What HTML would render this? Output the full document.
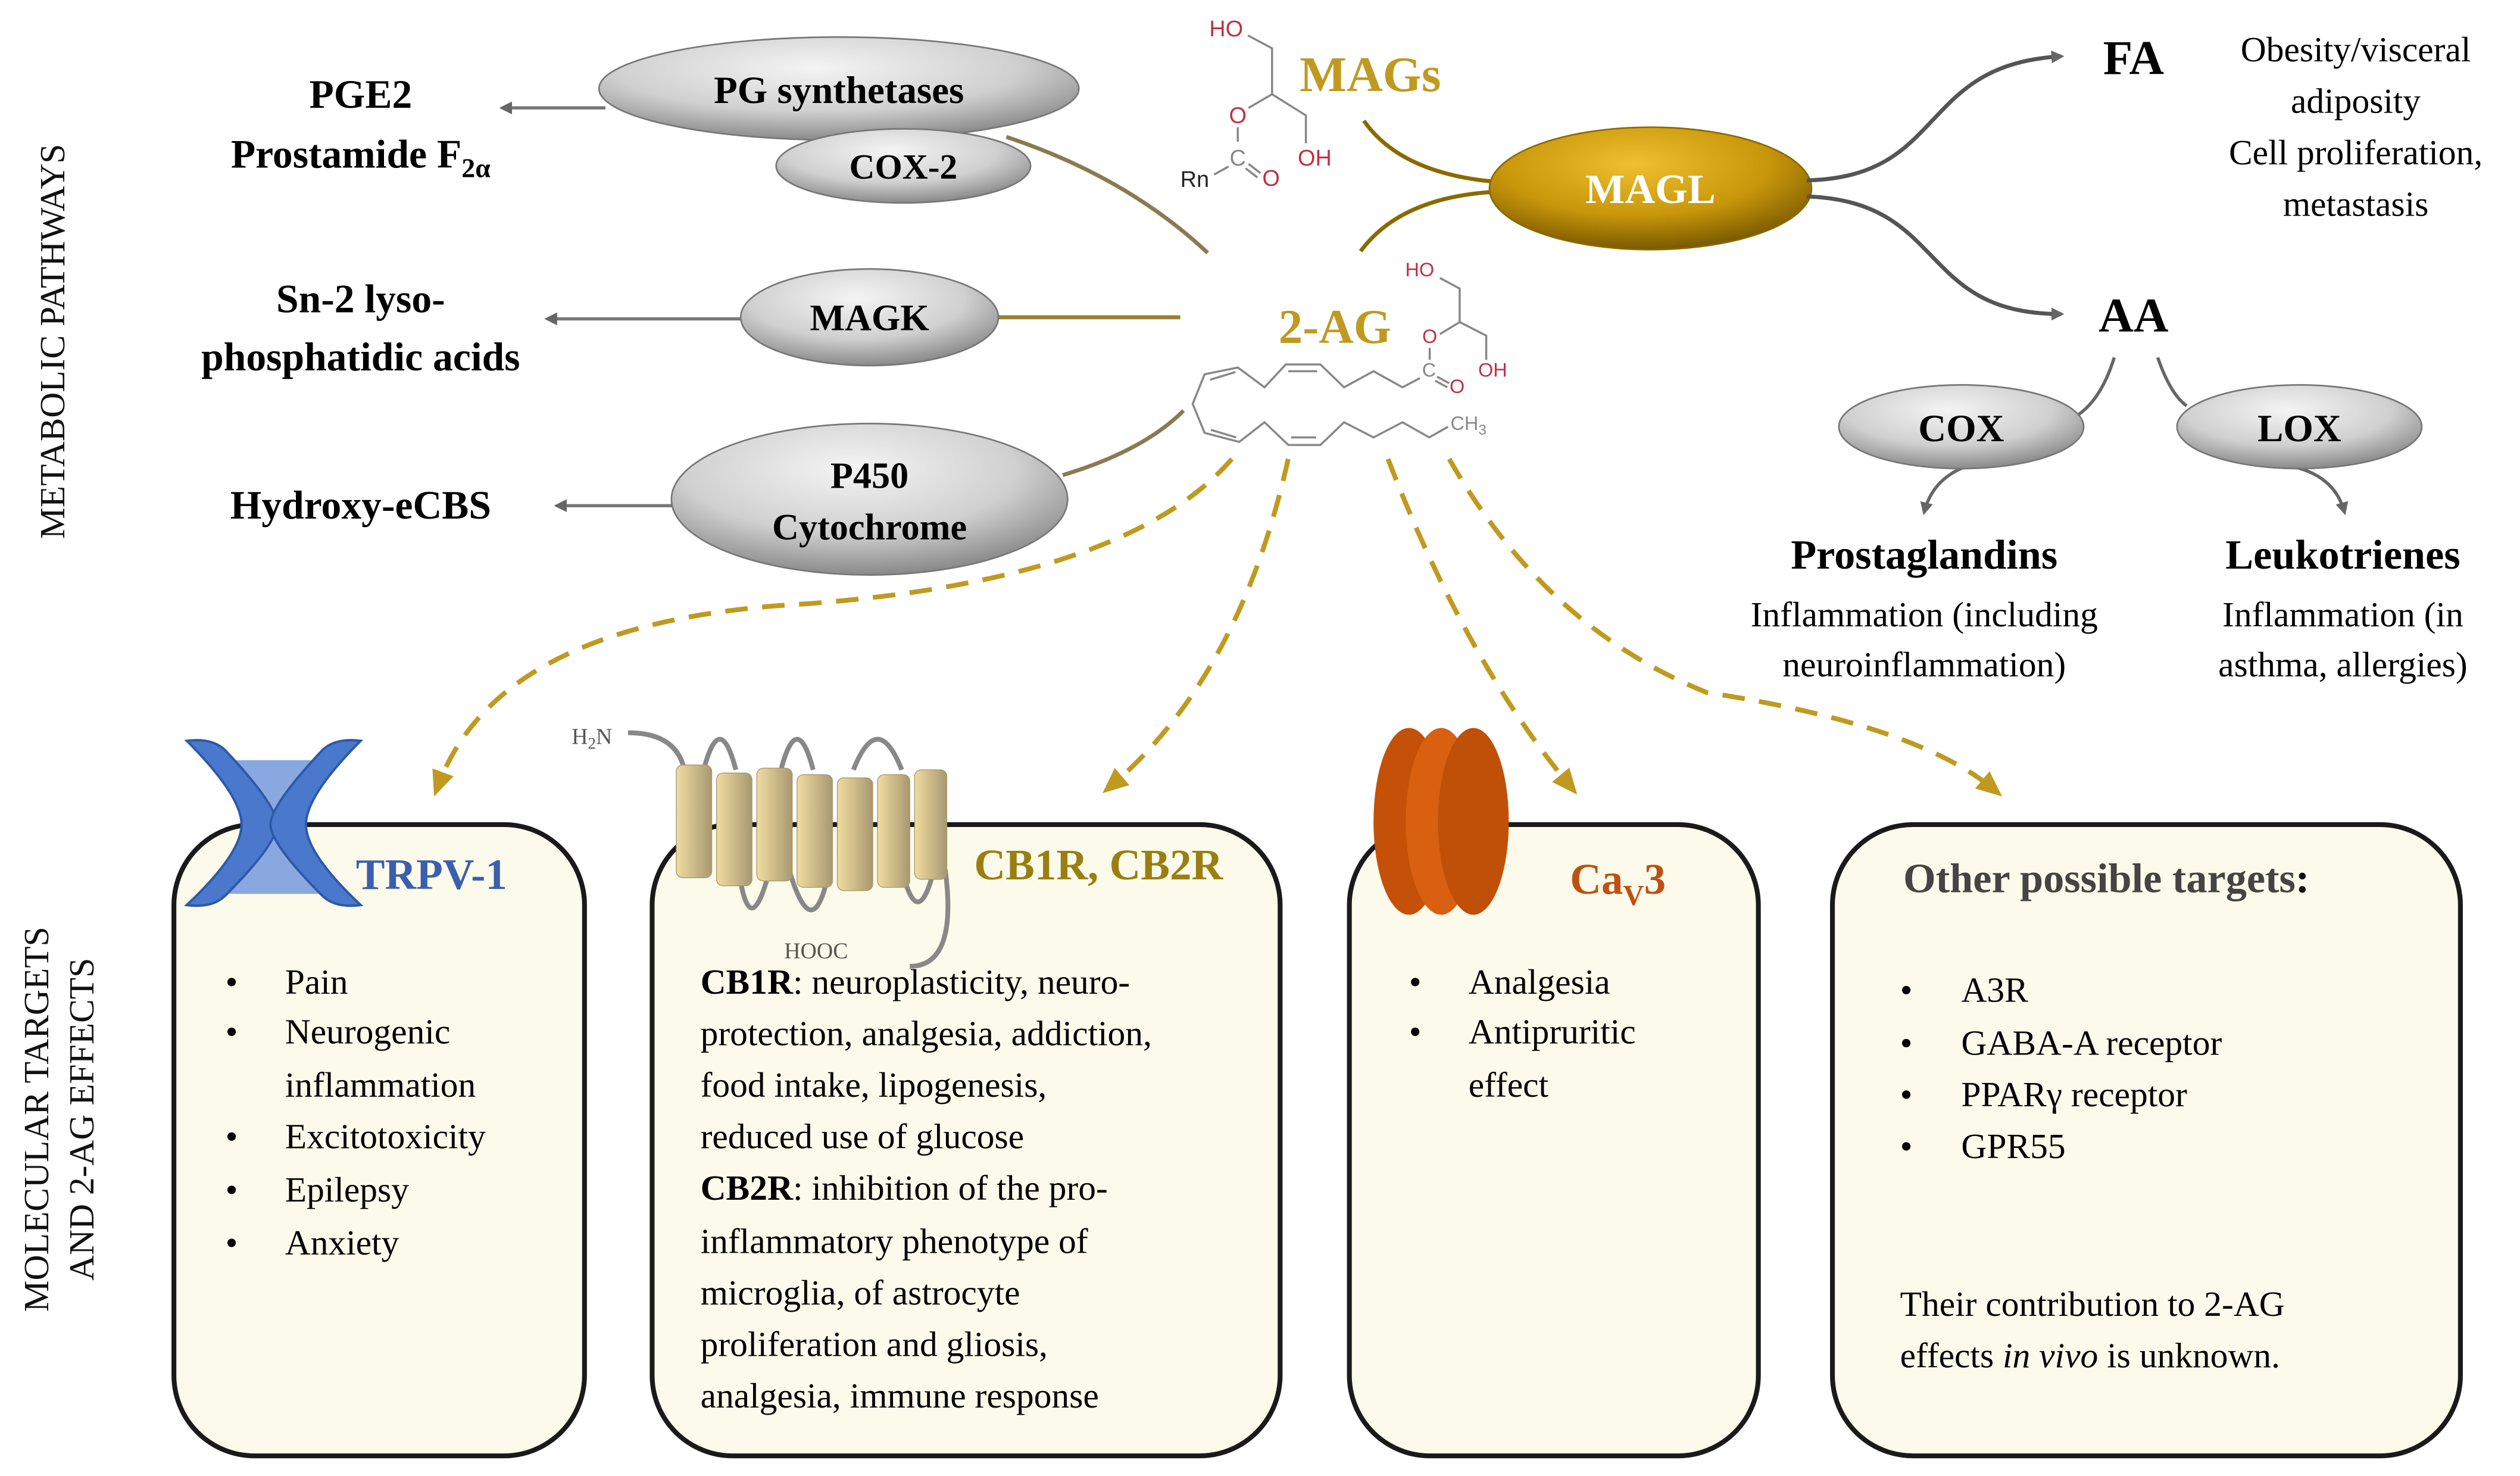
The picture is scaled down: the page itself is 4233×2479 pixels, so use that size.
<!DOCTYPE html>
<html><head><meta charset="utf-8"><style>
html,body{margin:0;padding:0;background:#fff;}
svg{display:block;font-family:"Liberation Serif","Times New Roman","Tinos","Noto Serif","DejaVu Serif","Noto Serif CJK SC",serif;}
svg text{font-family:"Liberation Serif","Times New Roman","Tinos","Noto Serif","DejaVu Serif","Noto Serif CJK SC",serif;}
svg text.s{font-family:"Liberation Sans","DejaVu Sans",sans-serif;}
.b{font-weight:bold;}
</style></head><body>
<svg width="4233" height="2479" viewBox="0 0 1565 916.5" preserveAspectRatio="none" xmlns="http://www.w3.org/2000/svg">
<defs>
<radialGradient id="gr" cx="45%" cy="30%" r="70%"><stop offset="0" stop-color="#f4f4f4"/><stop offset="0.6" stop-color="#d0d0d0"/><stop offset="1" stop-color="#8a8a8a"/></radialGradient>
<radialGradient id="gd" cx="45%" cy="30%" r="70%"><stop offset="0" stop-color="#f0c030"/><stop offset="0.6" stop-color="#c8960a"/><stop offset="1" stop-color="#7a5a00"/></radialGradient>
<linearGradient id="cyl" x1="0" x2="1"><stop offset="0" stop-color="#f0dca0"/><stop offset="1" stop-color="#a89870"/></linearGradient>
<marker id="ag" markerWidth="8" markerHeight="8" refX="6" refY="4" orient="auto" markerUnits="userSpaceOnUse"><path d="M0,0 L8,4 L0,8 z" fill="#666"/></marker>
<marker id="ad" markerWidth="18" markerHeight="18" refX="9" refY="9" orient="auto" markerUnits="userSpaceOnUse"><path d="M0,2 L16,9 L0,16 z" fill="#c09a20"/></marker>
</defs>

<!-- side labels -->
<text transform="translate(40,212) rotate(-90)" text-anchor="middle" font-size="22" fill="#111">METABOLIC  PATHWAYS</text>
<text transform="translate(30,695) rotate(-90)" text-anchor="middle" font-size="22" fill="#111">MOLECULAR TARGETS</text>
<text transform="translate(58,695) rotate(-90)" text-anchor="middle" font-size="22" fill="#111">AND 2-AG EFFECTS</text>

<!-- left pathways -->
<g stroke="#777" stroke-width="2" fill="none">
<line x1="376" y1="67" x2="312" y2="67" marker-end="url(#ag)"/>
<line x1="462" y1="198" x2="340" y2="198" marker-end="url(#ag)"/>
<line x1="420" y1="314" x2="346" y2="314" marker-end="url(#ag)"/>
</g>
<g stroke="#8a7a50" stroke-width="2.5" fill="none">
<path d="M625,85 Q700,110 750,157"/>
<line x1="620" y1="197" x2="733" y2="197" stroke="#9a8030"/>
<path d="M660,295 Q710,280 735,255"/>
</g>
<ellipse cx="521" cy="55" rx="149" ry="32" fill="url(#gr)" stroke="#777"/>
<text x="521" y="64" text-anchor="middle" font-size="24" class="b">PG synthetases</text>
<ellipse cx="561" cy="103" rx="79" ry="23" fill="url(#gr)" stroke="#777"/>
<text x="561" y="111" text-anchor="middle" font-size="22" class="b">COX-2</text>
<ellipse cx="540" cy="197" rx="80" ry="30" fill="url(#gr)" stroke="#777"/>
<text x="540" y="205" text-anchor="middle" font-size="23" class="b">MAGK</text>
<ellipse cx="540" cy="310" rx="123" ry="47" fill="url(#gr)" stroke="#777"/>
<text x="540" y="303" text-anchor="middle" font-size="23" class="b">P450</text>
<text x="540" y="335" text-anchor="middle" font-size="23" class="b">Cytochrome</text>

<text x="224" y="67" text-anchor="middle" font-size="25" class="b">PGE2</text>
<text x="224" y="104" text-anchor="middle" font-size="25" class="b">Prostamide F<tspan font-size="17" dy="6">2α</tspan></text>
<text x="224" y="194" text-anchor="middle" font-size="25" class="b">Sn-2 lyso-</text>
<text x="224" y="230" text-anchor="middle" font-size="25" class="b">phosphatidic acids</text>
<text x="224" y="322" text-anchor="middle" font-size="25" class="b">Hydroxy-eCBS</text>

<!-- MAGs molecule -->
<g stroke="#888" stroke-width="1.3" fill="none">
<path d="M775,22 L790,30 L790,58.5 L811,71.7 L811,89"/>
<path d="M790,58.5 L775.4,67"/>
<path d="M768.7,79 L768.7,88"/>
<path d="M754,108.4 L763,103.4"/>
<path d="M775.4,101.8 L782.8,107.5"/><path d="M773.5,104.5 L780.9,110.2"/>
</g>
<text class="s" x="751" y="22.6" font-size="14" fill="#c03040">HO</text>
<text class="s" x="768.7" y="76.4" font-size="14" fill="#c03040" text-anchor="middle">O</text>
<text class="s" x="768.7" y="102.8" font-size="14" fill="#888" text-anchor="middle">C</text>
<text class="s" x="806" y="102.8" font-size="14" fill="#c03040">OH</text>
<text class="s" x="733" y="116" font-size="14" fill="#222">Rn</text>
<text class="s" x="789.4" y="115.4" font-size="14" fill="#c03040" text-anchor="middle">O</text>
<text x="851" y="56.6" text-anchor="middle" font-size="31" class="b" fill="#c09a20">MAGs</text>

<!-- 2-AG molecule -->
<g stroke="#888" stroke-width="1.3" fill="none">
<path d="M894.2,172.6 L906.5,179.2 L906.5,200 L923,208.4 L923,223.5"/>
<path d="M906.5,200 L894.2,207.5"/>
<path d="M887.9,216 L887.9,223.5"/>
<path d="M892.5,233.9 L900,238"/><path d="M891.3,236.4 L898.8,240.5"/>
<path d="M881.8,234.8 L871,240.5 L853,230.5 L834.7,240.5 L820,226.3 L798.5,226.3 L785.3,240.5 L768.8,228.2 L748.1,232.4 L740.7,250.8 L748.1,268.8 L769.6,274.4 L785.3,262.2 L800.1,276.3 L820,276.3 L834.7,262.2 L853,271.6 L871,262.2 L887.6,271.6 L899.2,265"/>
<path d="M751.5,235.8 L767.2,231"/><path d="M800,230.5 L818,230.5"/><path d="M752,266.9 L767.7,271.6"/><path d="M801.8,271.6 L817.4,271.6"/>
</g>
<text class="s" x="872.7" y="171.6" font-size="12" fill="#c03040">HO</text>
<text class="s" x="887.9" y="213" font-size="12" fill="#c03040" text-anchor="middle">O</text>
<text class="s" x="887.5" y="233.9" font-size="12" fill="#888" text-anchor="middle">C</text>
<text class="s" x="904.9" y="244" font-size="12" fill="#c03040" text-anchor="middle">O</text>
<text class="s" x="918" y="233.9" font-size="12" fill="#c03040">OH</text>
<text class="s" x="900.8" y="266.9" font-size="12" fill="#888">CH<tspan font-size="9" dy="3">3</tspan></text>
<text x="829" y="213" text-anchor="middle" font-size="30" class="b" fill="#c09a20">2-AG</text>

<!-- MAGL -->
<g stroke="#8a6a00" stroke-width="2.5" fill="none">
<path d="M847,75 Q870,108 930,113"/>
<path d="M845,156 Q870,122 930,119"/>
</g>
<ellipse cx="1025" cy="117" rx="100" ry="38" fill="url(#gd)" stroke="#8a6a00"/>
<text x="1025" y="126" text-anchor="middle" font-size="26" class="b" fill="#fff">MAGL</text>
<g stroke="#555" stroke-width="2.5" fill="none">
<path d="M1122,112 C1210,110 1190,40 1280,35" marker-end="url(#ag)"/>
<path d="M1122,122 C1210,125 1190,195 1280,195" marker-end="url(#ag)"/>
</g>
<text x="1325" y="46" text-anchor="middle" font-size="30" class="b">FA</text>
<text x="1325" y="206" text-anchor="middle" font-size="30" class="b">AA</text>
<g font-size="22" text-anchor="middle">
<text x="1463" y="38">Obesity/visceral</text>
<text x="1463" y="70">adiposity</text>
<text x="1463" y="102">Cell proliferation,</text>
<text x="1463" y="134">metastasis</text>
</g>
<g stroke="#666" stroke-width="2" fill="none">
<path d="M1313,222 Q1305,248 1290,258"/>
<path d="M1340,222 Q1348,245 1358,252"/>
<path d="M1220,290 Q1200,298 1195,318" marker-end="url(#ag)"/>
<path d="M1425,290 Q1450,296 1456,318" marker-end="url(#ag)"/>
</g>
<ellipse cx="1218" cy="265" rx="76" ry="26" fill="url(#gr)" stroke="#777"/>
<text x="1218" y="274" text-anchor="middle" font-size="24" class="b">COX</text>
<ellipse cx="1428" cy="265" rx="76" ry="26" fill="url(#gr)" stroke="#777"/>
<text x="1428" y="274" text-anchor="middle" font-size="24" class="b">LOX</text>
<text x="1195" y="353" text-anchor="middle" font-size="26" class="b">Prostaglandins</text>
<text x="1195" y="389" text-anchor="middle" font-size="22">Inflammation (including</text>
<text x="1195" y="420" text-anchor="middle" font-size="22">neuroinflammation)</text>
<text x="1455" y="353" text-anchor="middle" font-size="26" class="b">Leukotrienes</text>
<text x="1455" y="389" text-anchor="middle" font-size="22">Inflammation (in</text>
<text x="1455" y="420" text-anchor="middle" font-size="22">asthma, allergies)</text>

<!-- dashed arrows -->
<g stroke="#c09a20" stroke-width="3" fill="none" stroke-dasharray="14,9">
<path d="M765,285 Q700,360 500,375 Q310,385 272,488" marker-end="url(#ad)"/>
<path d="M800,285 Q770,420 690,488" marker-end="url(#ad)"/>
<path d="M862,285 Q910,410 975,488" marker-end="url(#ad)"/>
<path d="M900,285 Q960,390 1060,430 Q1190,450 1238,490" marker-end="url(#ad)"/>
</g>

<!-- boxes -->
<g fill="#fcfaea" stroke="#1a1a1a" stroke-width="3">
<rect x="108" y="512" width="255" height="392" rx="50"/>
<rect x="405" y="512" width="390" height="392" rx="50"/>
<rect x="838" y="512" width="254" height="392" rx="50"/>
<rect x="1138" y="512" width="390" height="392" rx="50"/>
</g>

<!-- TRPV1 icon -->
<path d="M140,472 L200,472 L180,512 L200,555 L140,555 L160,512 z" fill="#8aa8e0"/>
<path d="M116,460 Q132,458 140,466 Q172,500 172,512 Q172,524 140,556 Q132,564 116,562 Q150,530 150,512 Q150,494 116,460 z" fill="#4a78cc" stroke="#2c5aa8" stroke-width="1.5"/>
<path d="M224,460 Q208,458 200,466 Q168,500 168,512 Q168,524 200,556 Q208,564 224,562 Q190,530 190,512 Q190,494 224,460 z" fill="#4a78cc" stroke="#2c5aa8" stroke-width="1.5"/>
<text x="221" y="552" font-size="27" class="b" fill="#3a5fb0">TRPV-1</text>

<!-- CB receptor icon -->
<text x="355" y="462" font-size="14" fill="#555">H<tspan font-size="10" dy="3">2</tspan><tspan dy="-3">N</tspan></text>
<path d="M390,455 Q420,455 425,478 M437,478 Q447,440 457,478 M485,478 Q495,440 505,478 M530,478 Q545,440 560,478 M458,535 Q465,590 478,540 M490,540 Q505,590 515,540 M560,540 Q570,580 580,540 M587,540 Q595,600 565,600" stroke="#888" stroke-width="3" fill="none"/>
<g fill="url(#cyl)" stroke="#a89870" stroke-width="0.5">
<rect x="420" y="475" width="22" height="70" rx="4"/>
<rect x="445" y="480" width="22" height="70" rx="4"/>
<rect x="470" y="477" width="22" height="70" rx="4"/>
<rect x="495" y="481" width="22" height="70" rx="4"/>
<rect x="520" y="483" width="22" height="70" rx="4"/>
<rect x="545" y="481" width="20" height="70" rx="4"/>
<rect x="568" y="478" width="20" height="68" rx="4"/>
</g>
<text x="487" y="595" font-size="14" fill="#555">HOOC</text>
<text x="605" y="546" font-size="27" class="b" fill="#9a7e10">CB1R, CB2R</text>

<!-- Cav3 icon -->
<ellipse cx="875" cy="510" rx="22" ry="58" fill="#c55008"/>
<ellipse cx="895" cy="510" rx="22" ry="58" fill="#d86010"/>
<ellipse cx="915" cy="510" rx="22" ry="58" fill="#c05008"/>
<text x="975" y="555" font-size="27" class="b" fill="#c05010">Ca<tspan font-size="18" dy="7">V</tspan><tspan dy="-7">3</tspan></text>

<!-- box1 text -->
<g font-size="22">
<text x="140" y="617">•</text><text x="177" y="617">Pain</text>
<text x="140" y="648">•</text><text x="177" y="648">Neurogenic</text>
<text x="177" y="681">inflammation</text>
<text x="140" y="713">•</text><text x="177" y="713">Excitotoxicity</text>
<text x="140" y="746">•</text><text x="177" y="746">Epilepsy</text>
<text x="140" y="779">•</text><text x="177" y="779">Anxiety</text>
</g>
<!-- box2 text -->
<g font-size="22">
<text x="435" y="617"><tspan class="b">CB1R</tspan>: neuroplasticity, neuro-</text>
<text x="435" y="649">protection, analgesia, addiction,</text>
<text x="435" y="681">food intake, lipogenesis,</text>
<text x="435" y="713">reduced use of glucose</text>
<text x="435" y="745"><tspan class="b">CB2R</tspan>: inhibition of the pro-</text>
<text x="435" y="778">inflammatory phenotype of</text>
<text x="435" y="810">microglia, of astrocyte</text>
<text x="435" y="842">proliferation and gliosis,</text>
<text x="435" y="874">analgesia, immune response</text>
</g>
<!-- box3 -->
<g font-size="22">
<text x="875" y="617">•</text><text x="912" y="617">Analgesia</text>
<text x="875" y="648">•</text><text x="912" y="648">Antipruritic</text>
<text x="912" y="681">effect</text>
</g>
<!-- box4 -->
<text x="1182" y="554" font-size="26" class="b" fill="#444">Other possible targets<tspan fill="#111">:</tspan></text>
<g font-size="22">
<text x="1180" y="622">•</text><text x="1218" y="622">A3R</text>
<text x="1180" y="655">•</text><text x="1218" y="655">GABA-A  receptor</text>
<text x="1180" y="687">•</text><text x="1218" y="687">PPARγ receptor</text>
<text x="1180" y="719">•</text><text x="1218" y="719">GPR55</text>
<text x="1180" y="817">Their contribution to 2-AG</text>
<text x="1180" y="849">effects <tspan font-style="italic">in vivo</tspan> is unknown.</text>
</g>
</svg>
</body></html>
